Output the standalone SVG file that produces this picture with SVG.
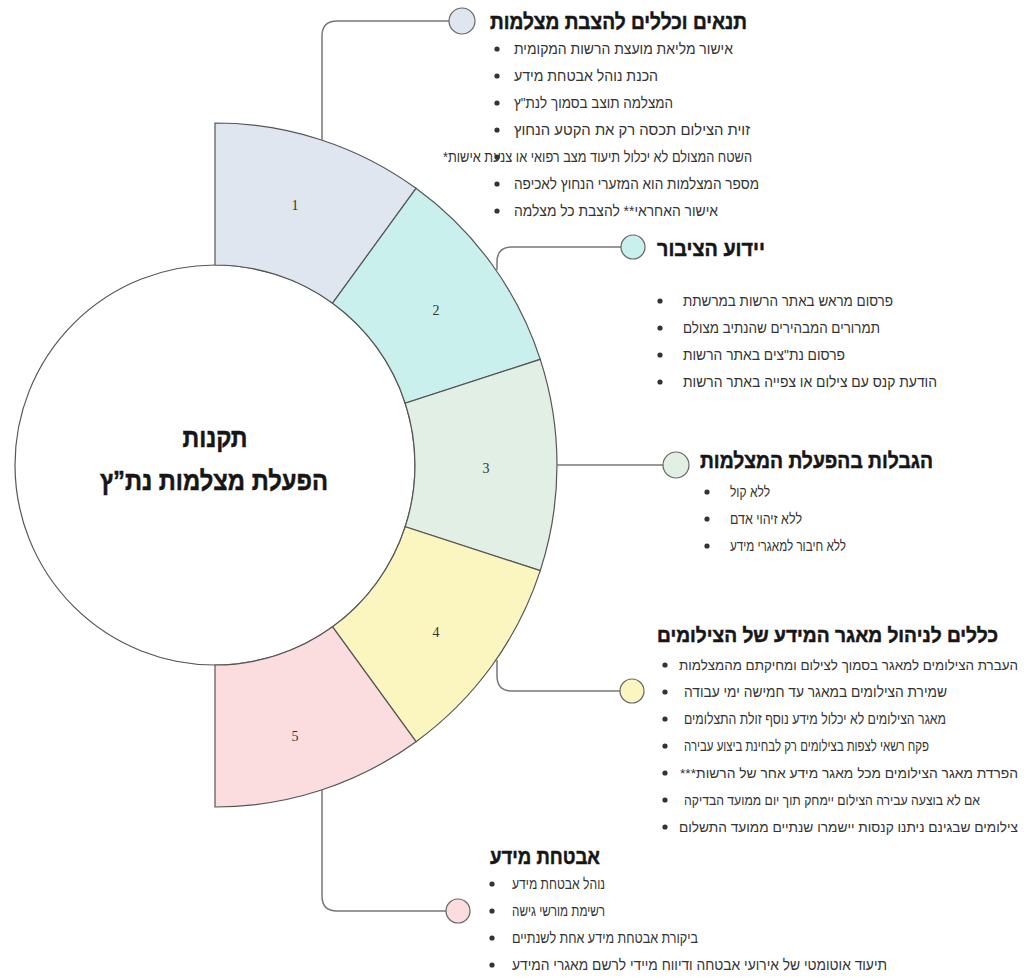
<svg xmlns="http://www.w3.org/2000/svg" width="1027" height="978" viewBox="0 0 1027 978">
<style>
.seg{stroke:#555;stroke-width:1.2}
.lbl{font-family:"Liberation Serif",serif;font-size:14px;fill:#333;text-anchor:middle}
.con{fill:none;stroke:#777;stroke-width:1.5}
.dot{stroke:#666;stroke-width:1.2}
.h{font-family:"Liberation Sans","DejaVu Sans",sans-serif;font-weight:bold;font-size:22px;fill:#161616;stroke:#161616;stroke-width:0.5}
.t{font-family:"Liberation Sans","DejaVu Sans",sans-serif;font-size:15.5px;fill:#333}
.s{font-size:14.5px}
.b{fill:#333}
.ctr{font-family:"Liberation Sans","DejaVu Sans",sans-serif;font-weight:bold;font-size:27px;fill:#161616;stroke:#161616;stroke-width:0.5;text-anchor:middle}
</style>
<rect width="1027" height="978" fill="#ffffff"/>
<g id="center">
<circle cx="215" cy="465" r="200" fill="#ffffff" stroke="#555" stroke-width="1.2"/>
<text class="ctr" x="215" y="447" textLength="65" lengthAdjust="spacingAndGlyphs">תקנות</text>
<text class="ctr" x="214" y="490" textLength="228" lengthAdjust="spacingAndGlyphs">הפעלת מצלמות נת”ץ</text>
</g>
<g id="segments">
<g id="seg1"><path class="seg" fill="#dfe6f0" d="M215,123 A342,342 0 0 1 416.02,188.32 L332.56,303.2 A200,200 0 0 0 215,265 Z"/><text class="lbl" x="295" y="210">1</text></g>
<g id="seg2"><path class="seg" fill="#c9f0ed" d="M416.02,188.32 A342,342 0 0 1 540.26,359.32 L405.21,403.2 A200,200 0 0 0 332.56,303.2 Z"/><text class="lbl" x="436" y="315">2</text></g>
<g id="seg3"><path class="seg" fill="#e1efe4" d="M540.26,359.32 A342,342 0 0 1 540.26,570.68 L405.21,526.8 A200,200 0 0 0 405.21,403.2 Z"/><text class="lbl" x="486" y="473">3</text></g>
<g id="seg4"><path class="seg" fill="#fbf6c0" d="M540.26,570.68 A342,342 0 0 1 416.02,741.68 L332.56,626.8 A200,200 0 0 0 405.21,526.8 Z"/><text class="lbl" x="436" y="637">4</text></g>
<g id="seg5"><path class="seg" fill="#fbdde0" d="M416.02,741.68 A342,342 0 0 1 215,807 L215,665 A200,200 0 0 0 332.56,626.8 Z"/><text class="lbl" x="295" y="741">5</text></g>
</g>
<g id="connectors">
<path class="con" d="M322,140 V36 Q322,21 337,21 H449"/>
<path class="con" d="M497,270 V262 Q497,247 512,247 H621"/>
<path class="con" d="M557,465 H663"/>
<path class="con" d="M497,660 V676 Q497,691 512,691 H620"/>
<path class="con" d="M322,790 V896 Q322,911 337,911 H446"/>
</g>
<g id="node1">
<circle class="dot" cx="462" cy="21" r="13" fill="#dfe6f0"/>
<text class="h" x="490" y="29" textLength="257" lengthAdjust="spacingAndGlyphs">תנאים וכללים להצבת מצלמות</text>
<circle class="b" cx="497" cy="49" r="2.6"/><text class="t" x="514" y="54" textLength="219" lengthAdjust="spacingAndGlyphs">אישור מליאת מועצת הרשות המקומית</text>
<circle class="b" cx="497" cy="76" r="2.6"/><text class="t" x="514" y="81" textLength="144" lengthAdjust="spacingAndGlyphs">הכנת נוהל אבטחת מידע</text>
<circle class="b" cx="497" cy="103" r="2.6"/><text class="t" x="514" y="108" textLength="159" lengthAdjust="spacingAndGlyphs">המצלמה תוצב בסמוך לנת"ץ</text>
<circle class="b" cx="497" cy="130" r="2.6"/><text class="t" x="514" y="135" textLength="236" lengthAdjust="spacingAndGlyphs">זוית הצילום תכסה רק את הקטע הנחוץ</text>
<circle class="b" cx="497" cy="157" r="2.6"/><text class="t" x="443" y="162" textLength="309" lengthAdjust="spacingAndGlyphs">השטח המצולם לא יכלול תיעוד מצב רפואי או צנעת אישות*&#x200F;</text>
<circle class="b" cx="497" cy="184" r="2.6"/><text class="t" x="514" y="189" textLength="245" lengthAdjust="spacingAndGlyphs">מספר המצלמות הוא המזערי הנחוץ לאכיפה</text>
<circle class="b" cx="497" cy="211" r="2.6"/><text class="t" x="514" y="216" textLength="204" lengthAdjust="spacingAndGlyphs">אישור האחראי** להצבת כל מצלמה</text>
</g>
<g id="node2">
<circle class="dot" cx="633" cy="247" r="12" fill="#c9f0ed"/>
<text class="h" x="657" y="256" textLength="108" lengthAdjust="spacingAndGlyphs">יידוע הציבור</text>
<circle class="b" cx="660" cy="301" r="2.6"/><text class="t" x="683" y="306" textLength="210" lengthAdjust="spacingAndGlyphs">פרסום מראש באתר הרשות במרשתת</text>
<circle class="b" cx="660" cy="328" r="2.6"/><text class="t" x="683" y="333" textLength="197" lengthAdjust="spacingAndGlyphs">תמרורים המבהירים שהנתיב מצולם</text>
<circle class="b" cx="660" cy="355" r="2.6"/><text class="t" x="683" y="360" textLength="162" lengthAdjust="spacingAndGlyphs">פרסום נת"צים באתר הרשות</text>
<circle class="b" cx="660" cy="382" r="2.6"/><text class="t" x="683" y="387" textLength="254" lengthAdjust="spacingAndGlyphs">הודעת קנס עם צילום או צפייה באתר הרשות</text>
</g>
<g id="node3">
<circle class="dot" cx="676" cy="465" r="13" fill="#e1efe4"/>
<text class="h" x="700" y="468" textLength="233" lengthAdjust="spacingAndGlyphs">הגבלות בהפעלת המצלמות</text>
<circle class="b" cx="707" cy="492" r="2.6"/><text class="t s" x="730" y="497" textLength="40" lengthAdjust="spacingAndGlyphs">ללא קול</text>
<circle class="b" cx="707" cy="519" r="2.6"/><text class="t s" x="730" y="524" textLength="72" lengthAdjust="spacingAndGlyphs">ללא זיהוי אדם</text>
<circle class="b" cx="707" cy="546" r="2.6"/><text class="t s" x="730" y="551" textLength="116" lengthAdjust="spacingAndGlyphs">ללא חיבור למאגרי מידע</text>
</g>
<g id="node4">
<circle class="dot" cx="632" cy="691" r="12" fill="#fbf6c0"/>
<text class="h" x="657" y="642" style="font-size:20.5px" textLength="341" lengthAdjust="spacingAndGlyphs">כללים לניהול מאגר המידע של הצילומים</text>
<circle class="b" cx="665" cy="665" r="2.6"/><text class="t" x="679" y="670" style="font-size:13.5px" textLength="339" lengthAdjust="spacingAndGlyphs">העברת הצילומים למאגר בסמוך לצילום ומחיקתם מהמצלמות</text>
<circle class="b" cx="665" cy="692" r="2.6"/><text class="t" x="684" y="697" textLength="263" lengthAdjust="spacingAndGlyphs">שמירת הצילומים במאגר עד חמישה ימי עבודה</text>
<circle class="b" cx="665" cy="719" r="2.6"/><text class="t" x="684" y="724" textLength="262" lengthAdjust="spacingAndGlyphs">מאגר הצילומים לא יכלול מידע נוסף זולת התצלומים</text>
<circle class="b" cx="665" cy="746" r="2.6"/><text class="t" x="684" y="751" textLength="245" lengthAdjust="spacingAndGlyphs">פקח רשאי לצפות בצילומים רק לבחינת ביצוע עבירה</text>
<circle class="b" cx="665" cy="773" r="2.6"/><text class="t" x="680" y="778" style="font-size:13.5px" textLength="338" lengthAdjust="spacingAndGlyphs">הפרדת מאגר הצילומים מכל מאגר מידע אחר של הרשות***&#x200F;</text>
<circle class="b" cx="665" cy="800" r="2.6"/><text class="t" x="684" y="805" style="font-size:14px" textLength="296" lengthAdjust="spacingAndGlyphs">אם לא בוצעה עבירה הצילום יימחק תוך יום ממועד הבדיקה</text>
<circle class="b" cx="665" cy="827" r="2.6"/><text class="t" x="679" y="832" style="font-size:13.5px" textLength="339" lengthAdjust="spacingAndGlyphs">צילומים שבגינם ניתנו קנסות יישמרו שנתיים ממועד התשלום</text>
</g>
<g id="node5">
<circle class="dot" cx="458" cy="911" r="12" fill="#fbdde0"/>
<text class="h" x="490" y="864" textLength="110" lengthAdjust="spacingAndGlyphs">אבטחת מידע</text>
<circle class="b" cx="492" cy="884" r="2.6"/><text class="t" x="512" y="889" textLength="93" lengthAdjust="spacingAndGlyphs">נוהל אבטחת מידע</text>
<circle class="b" cx="492" cy="911" r="2.6"/><text class="t" x="512" y="916" textLength="93" lengthAdjust="spacingAndGlyphs">רשימת מורשי גישה</text>
<circle class="b" cx="492" cy="938" r="2.6"/><text class="t" x="512" y="943" textLength="186" lengthAdjust="spacingAndGlyphs">ביקורת אבטחת מידע אחת לשנתיים</text>
<circle class="b" cx="492" cy="965" r="2.6"/><text class="t" x="512" y="970" textLength="375" lengthAdjust="spacingAndGlyphs">תיעוד אוטומטי של אירועי אבטחה ודיווח מיידי לרשם מאגרי המידע</text>
</g>
</svg>
